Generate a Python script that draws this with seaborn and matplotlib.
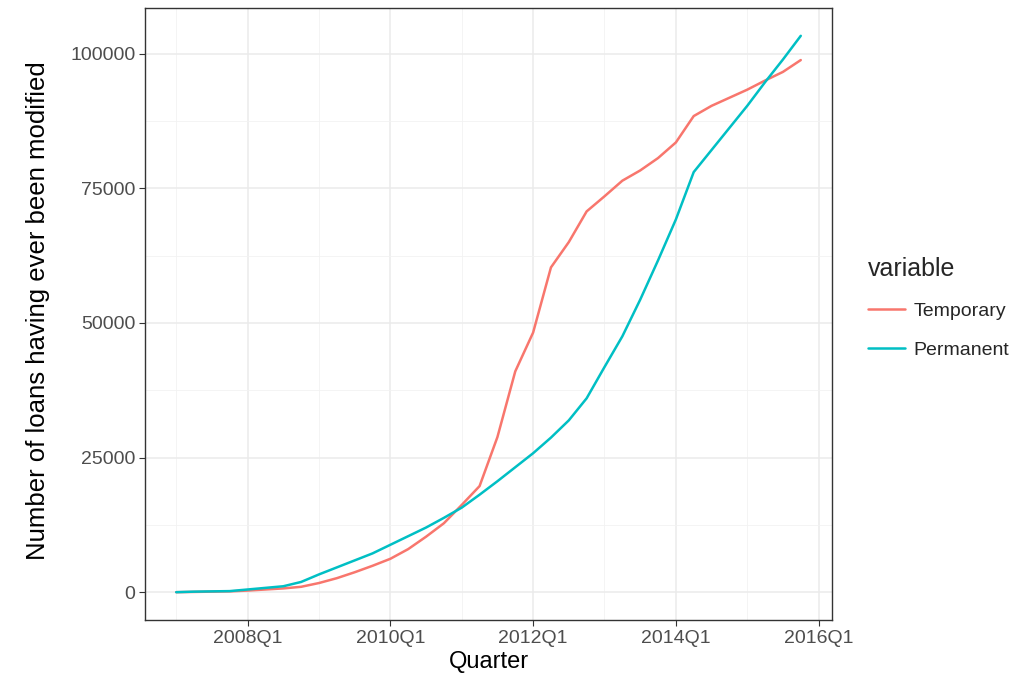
import numpy as np
import pandas as pd
import matplotlib
matplotlib.use("Agg")
import matplotlib.pyplot as plt
import seaborn as sns

# quarters 2007Q1 .. 2015Q4
quarters = [f"{y}Q{q}" for y in range(2007, 2016) for q in range(1, 5)]

temporary = [0, 50, 100, 150, 300, 500, 700, 1000, 1700, 2600, 3700, 4900,
             6200, 8000, 10300, 12800, 16200, 19700, 28800, 41000, 48200, 60300,
             65000, 70700, 73500, 76400, 78300, 80600, 83500, 88400, 90300, 91800,
             93300, 95000, 96600, 98800]
permanent = [0, 100, 150, 200, 500, 800, 1100, 1900, 3300, 4600, 5900, 7200,
             8800, 10400, 12000, 13800, 15700, 18100, 20600, 23200, 25800, 28700,
             31900, 36000, 41800, 47500, 54300, 61600, 69200, 78000, 82100, 86200,
             90300, 94700, 98900, 103300]

x_ticks = ["2008Q1", "2010Q1", "2012Q1", "2014Q1", "2016Q1"]

df = pd.DataFrame({"Quarter": quarters, "Temporary": temporary, "Permanent": permanent})
df["idx"] = np.arange(len(df))
long = df.melt(id_vars=["Quarter", "idx"], value_vars=["Temporary", "Permanent"],
               var_name="variable", value_name="value")

sns.set_theme(style="white")
plt.rcParams["font.family"] = ["Liberation Sans", "DejaVu Sans"]

fig = plt.figure(figsize=(10.33, 6.8), dpi=100)
ax = fig.add_axes([145 / 1033, 1 - 620 / 680, (832 - 145) / 1033, (620 - 8) / 680])

sns.lineplot(data=long, x="idx", y="value", hue="variable",
             palette=["#F8766D", "#00BFC4"], linewidth=1.8, ax=ax, legend=True)

ax.set_xlim(-1.75, 36.75)
ax.set_ylim(-5165, 108465)

ax.set_xticks([4, 12, 20, 28, 36])
ax.set_xticklabels(x_ticks)
ax.set_xticks([0, 8, 16, 24, 32], minor=True)
ax.set_yticks([0, 25000, 50000, 75000, 100000])
ax.set_yticklabels(["0", "25000", "50000", "75000", "100000"])
ax.set_yticks([12500, 37500, 62500, 87500], minor=True)

ax.grid(True, which="major", color="#EBEBEB", linewidth=1.1)
ax.grid(True, which="minor", color="#F2F2F2", linewidth=0.6)
ax.set_axisbelow(True)

for s in ax.spines.values():
    s.set_color("#333333")
    s.set_linewidth(1.0)

ax.tick_params(axis="both", which="major", length=4, width=0.8, color="#333333",
               labelsize=14, labelcolor="#4D4D4D", direction="out",
               bottom=True, left=True, pad=3)
ax.tick_params(axis="both", which="minor", length=0)

ax.set_xlabel("Quarter", fontsize=17, color="black")
ax.xaxis.set_label_coords(0.5, -0.05)
ax.set_ylabel("Number of loans having ever been modified", fontsize=18.5,
              color="black")
ax.yaxis.set_label_coords(-0.139, 0.505)

handles, labels = ax.get_legend_handles_labels()
ax.legend_.remove()
leg = fig.legend(handles, labels, title="variable", loc="center left",
                 bbox_to_anchor=(858 / 1033, 1 - 308 / 680), frameon=False,
                 fontsize=14, title_fontsize=18, handlelength=1.9,
                 handletextpad=0.45, labelspacing=1.1, borderpad=0,
                 alignment="left")
for line in leg.get_lines():
    line.set_linewidth(1.8)

fig.savefig("out.png", dpi=100)
